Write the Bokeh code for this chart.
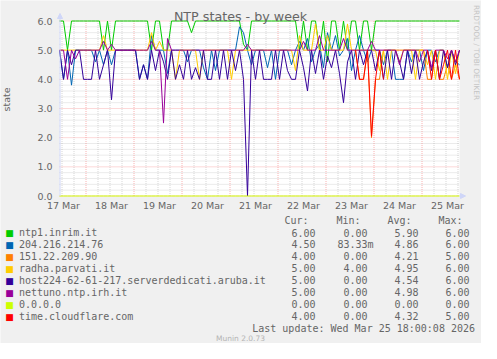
import numpy as np
from bokeh.plotting import figure
from bokeh.models import Range1d, Label, Arrow, NormalHead, BoxAnnotation
from bokeh.core.properties import value
from bokeh.embed import file_html
from bokeh.resources import INLINE

nan = float("nan")

# ---------------- data ----------------
# time axis: hours after 17 Mar 00:00, one sample every two hours
t_first = 10.75
t_step = 2.0
x_start, x_end = 10.75, 210.75
y_low, y_high = 0.0, 6.0

day_labels = ["17 Mar", "18 Mar", "19 Mar", "20 Mar", "21 Mar",
              "22 Mar", "23 Mar", "24 Mar", "25 Mar"]
y_tick_values = [0, 1, 2, 3, 4, 5, 6]
y_tick_labels = ["0.0", "1.0", "2.0", "3.0", "4.0", "5.0", "6.0"]

ntp1 = [6, 6, 5, 6, 6, 6, 6, 6, 6, 6,
        6, 5, 6, 5, 6, 6, 6, 6, 6, 6,
        6, 6, 6, 5, 6, 6, 5, 5, 6, 6,
        6, 6, 6, 5.6, 6, 6, 6, 6, 6, 6,
        6, 6, 6, 6, 6, 6, 5.2, 5, 6, 6,
        6, 6, 6, 6, 6, 6, 6, 6, 6, 6,
        5, 6, 5, 6, 6, 5, 6, 4.6, 6, 6,
        5, 6, 5, 6, 6, 5, 6, 6, 5, 6,
        6, 6, 6, 6, 6, 6, 6, 6, 6, 6,
        6, 6, 6, 6, 6, 6, 6, 6, 6, 6,
        6]
ip204 = [5, 4, 5, 3.8, 5, 5, 5, 5, 5, 4.6,
         5, 4.5, 5, 4.5, 5, 5, 5, 5, 5, 5,
         4, 4.5, 4, 5.5, 5, 5, 5, 4.2, 5, 5,
         5, 5, 4.6, 5, 5, 5, 4.4, 4, 5, 4.3,
         5, 5, 5, 5, 5, 5.8, 5.6, 5, 4.5, 5,
         5, 5, 4.4, 5, 4, 5, 5, 5, 4.5, 5,
         5.3, 5, 5.4, 4.6, 5, 5.2, 4.4, 5.6, 5, 5.5,
         4.8, 5, 5.4, 4.3, 5, 5.5, 5, 4.6, 5, 5,
         5, 4.5, 5, 5, 4, 4, 4, 5, 4.6, 5,
         5, 4.3, 5, 5, 4.6, 5, 5, 4.4, 5, 4.6,
         4.5]
ip151 = [nan, nan, nan, nan, nan, nan, nan, nan, nan, nan,
         nan, nan, nan, nan, nan, nan, nan, nan, nan, nan,
         nan, nan, nan, nan, nan, nan, nan, nan, nan, nan,
         nan, nan, nan, nan, nan, nan, nan, nan, nan, nan,
         nan, nan, nan, nan, nan, nan, nan, nan, nan, nan,
         nan, nan, nan, nan, nan, nan, nan, nan, nan, nan,
         nan, nan, nan, nan, nan, nan, nan, nan, nan, nan,
         nan, nan, nan, nan, 5, 4, 4, 5, 2, 4,
         4, 5, 5, 5, 5, 5, 5, 5, 5, 5,
         5, 5, 4, 4, 5, 4, 4, 4.5, 4, 4.5,
         4]
radha = [5, 5, 5, 5, 5, 5, 5, 5, 5, 5,
         5, 5.5, 5, 5, 5, 5, 5, 5, 5, 5,
         5, 5, 5, 5.6, 5, 5.3, 5, 5, 5, 4,
         5, 5, 5, 5, 5, 4, 5, 5, 5, 5,
         5, 5, 5, 4, 5, 5, 5, 5, 5, 5,
         5, 5, 5, 5, 5, 5, 5, 5, 5, 4.3,
         5.5, 5, 5, 5, 5.9, 5, 5, 5.5, 5, 5,
         5, 5, 5.9, 5, 5, 5, 5, 5, 5, 5,
         4.3, 5, 4, 5, 5, 4.6, 5, 5, 5, 4,
         5, 5, 4.5, 5, 4, 5, 5, 4, 5, 4.2,
         5]
host224 = [5, 4, 5, 4.5, 5, 5, 4, 4, 4, 5,
           4, 4.5, 5, 3.3, 5, 5, 5, 5, 5, 5,
           4, 4.5, 4, 5, 4.3, 5, 4.6, 4, 5, 4,
           4.5, 4, 5, 4, 4.4, 4, 5, 4, 4, 5,
           4, 5, 4, 5, 4.3, 5, 4, 0, 5, 4,
           5, 4, 4, 4, 5, 4, 5, 4.3, 4, 4,
           5, 4.4, 3.6, 5, 4.2, 5, 4, 4.8, 4.4, 5,
           4.2, 3.2, 4.6, 5, 4, 5, 4.5, 5, 5, 4.3,
           5, 4, 5, 4, 5, 4.6, 4, 5, 4.2, 5,
           4, 4.6, 5, 4.3, 5, 4, 5, 4.4, 5, 4.5,
           5]
nettuno = [5, 5, 4, 5, 4.7, 5, 5, 5, 5, 5,
           5, 5.3, 5, 5.2, 5, 5, 5, 5, 5, 5,
           5, 5, 5, 5.3, 5, 5, 2.5, 5.4, 5, 5,
           5, 5, 5, 5, 5, 5, 5, 5, 5, 5,
           5, 5, 5, 5, 5, 5, 5, 5.2, 5, 5,
           5, 5, 5, 5, 5, 5, 5, 5, 5, 5,
           5, 5.3, 5, 5, 5, 5.5, 5, 5, 5, 5,
           5, 5.4, 5, 5, 5, 5, 5, 5, 5.3, 5,
           5, 5, 5, 5, 5, 4.5, 5, 5, 5, 5,
           4.6, 5, 5, 4.4, 5, 5, 5, 4.7, 5, 4.6,
           5]
zero = [0, 0, 0, 0, 0, 0, 0, 0, 0, 0,
        0, 0, 0, 0, 0, 0, 0, 0, 0, 0,
        0, 0, 0, 0, 0, 0, 0, 0, 0, 0,
        0, 0, 0, 0, 0, 0, 0, 0, 0, 0,
        0, 0, 0, 0, 0, 0, 0, 0, 0, 0,
        0, 0, 0, 0, 0, 0, 0, 0, 0, 0,
        0, 0, 0, 0, 0, 0, 0, 0, 0, 0,
        0, 0, 0, 0, 0, 0, 0, 0, 0, 0,
        0, 0, 0, 0, 0, 0, 0, 0, 0, 0,
        0, 0, 0, 0, 0, 0, 0, 0, 0, 0,
        0]
cloudflare = [nan, nan, nan, nan, nan, nan, nan, nan, nan, nan,
              nan, nan, nan, nan, nan, nan, nan, nan, nan, nan,
              nan, nan, nan, nan, nan, nan, nan, nan, nan, nan,
              nan, nan, nan, nan, nan, nan, nan, nan, nan, nan,
              nan, nan, nan, nan, nan, nan, nan, nan, nan, nan,
              nan, nan, nan, nan, nan, nan, nan, nan, nan, nan,
              nan, nan, nan, nan, nan, nan, nan, nan, nan, nan,
              nan, nan, nan, nan, 5, 4, 4, 5, 2.05, 4,
              5, 4, nan, nan, nan, nan, nan, nan, nan, nan,
              nan, nan, 5, 4, 5, 4, 4.5, 5, 4, 5,
              4]

names = ["ntp1.inrim.it", "204.216.214.76", "151.22.209.90", "radha.parvati.it",
         "host224-62-61-217.serverdedicati.aruba.it", "nettuno.ntp.irh.it",
         "0.0.0.0", "time.cloudflare.com"]
colors = ["#00CC00", "#0066B3", "#FF8000", "#FFCC00",
          "#330099", "#990099", "#CCFF00", "#FF0000"]
cur_txt = ["6.00", "4.50", "4.00", "5.00", "5.00", "5.00", "0.00", "4.00"]
min_txt = ["0.00", "83.33m", "0.00", "4.00", "0.00", "0.00", "0.00", "0.00"]
avg_txt = ["5.90", "4.86", "4.21", "4.95", "4.54", "4.98", "0.00", "4.32"]
max_txt = ["6.00", "6.00", "5.00", "6.00", "6.00", "6.00", "0.00", "5.00"]
series = [ntp1, ip204, ip151, radha, host224, nettuno, zero, cloudflare]

# ---------------- figure: the frame fills the whole canvas ----------------
FONT = "#666666"
AXIS = "#CFD6F8"
W, H = 481, 343
PPH = 2.0              # pixels per hour
PPU = 175.0 / 6.0      # pixels per state unit
LEFT, ZERO_ROW = 59.0, 195.5   # canvas position of the plot area

xr = Range1d(x_start - LEFT / PPH, x_start + (W - LEFT) / PPH)
yr = Range1d(y_low - (H - ZERO_ROW) / PPU, y_low + ZERO_ROW / PPU)

p = figure(width=W, height=H, output_backend="svg", toolbar_location=None,
           title=None, x_range=xr, y_range=yr,
           x_axis_type=None, y_axis_type=None, min_border=0,
           background_fill_color="#F0F0F0", border_fill_color="#F0F0F0",
           outline_line_color=None)

# white canvas of the graph area
p.add_layout(BoxAnnotation(left=x_start, right=x_end,
                           bottom=y_low - 0.5 / PPU, top=y_high + 0.5 / PPU,
                           fill_color="#FFFFFF", fill_alpha=1.0,
                           line_color=None, level="image"))

label_hours = [12.75 + 24 * k for k in range(len(day_labels))]
midnights = [24 * k for k in range(1, 9)]
six_hours = [6 * k for k in range(2, 36) if k % 4 != 0]
y_minor = [round(0.2 * k, 1) for k in range(31) if k % 5 != 0]

GRID, MGRID = "#8C8C8C", "#F58080"
# minor grid
p.segment(x0=six_hours, y0=[y_low] * len(six_hours), x1=six_hours,
          y1=[y_high] * len(six_hours), line_color=GRID, line_alpha=0.35,
          line_dash="1 1", line_width=1)
p.segment(x0=[x_start] * len(y_minor), y0=y_minor, x1=[x_end] * len(y_minor),
          y1=y_minor, line_color=GRID, line_alpha=0.35, line_dash="1 1", line_width=1)
# major grid
p.segment(x0=midnights, y0=[y_low] * len(midnights), x1=midnights,
          y1=[y_high] * len(midnights), line_color=MGRID, line_alpha=0.6,
          line_dash="1 1", line_width=1)
p.segment(x0=[x_start] * len(y_tick_values), y0=y_tick_values,
          x1=[x_end] * len(y_tick_values), y1=y_tick_values,
          line_color=MGRID, line_alpha=0.6, line_dash="1 1", line_width=1)

# axes (line + arrow)
ax_x = x_start + 0.5 / PPH
p.add_layout(Arrow(x_start=ax_x, y_start=y_low, x_end=ax_x, y_end=y_high + 7.5 / PPU,
                   line_color=AXIS, line_width=1,
                   end=NormalHead(size=5, fill_color=AXIS, line_color=AXIS)))
p.add_layout(Arrow(x_start=x_end, y_start=y_low, x_end=x_end + 6 / PPH, y_end=y_low,
                   line_color=AXIS, line_width=1,
                   end=NormalHead(size=5, fill_color=AXIS, line_color=AXIS)))

# data series
t = np.array([t_first + t_step * i for i in range(len(ntp1))])
for s, c in zip(series, colors):
    p.line(t, np.array(s, dtype=float), line_color=c, line_width=1)

# tick labels
p.text(x=label_hours, y=[y_low] * len(label_hours), text=day_labels,
       y_offset=4, text_align="center", text_baseline="top",
       text_font=value("DejaVu Sans"), text_font_size="9.5px", text_color=FONT)
p.text(x=[x_start] * len(y_tick_values), y=y_tick_values, text=y_tick_labels,
       x_offset=-7, text_align="right", text_baseline="middle",
       text_font=value("DejaVu Sans"), text_font_size="9.5px", text_color=FONT)


# ---------------- texts (reference pixel coordinates, page margin 8px) ----------------
def txt(X, Y, s, size, color=FONT, font="DejaVu Sans", align="left",
        baseline="middle", angle=0.0):
    p.add_layout(Label(x=X - 8, y=H + 8 - Y, x_units="screen", y_units="screen",
                       text=s, text_font=font, text_font_size=size,
                       text_color=color, text_align=align,
                       text_baseline=baseline, angle=angle))


txt(248, 23.5, "NTP states - by week", "12.7px", align="center", baseline="alphabetic")
txt(14, 107, "state", "9.5px", align="center", angle=np.pi / 2)
txt(484, 60, "RRDTOOL / TOBI OETIKER", "7.4px", color="#C4C4C4",
    align="center", angle=-np.pi / 2)

MONO = "DejaVu Sans Mono"
txt(316, 228, "Cur:", "10px", font=MONO, align="right")
txt(368, 228, "Min:", "10px", font=MONO, align="right")
txt(419, 228, "Avg:", "10px", font=MONO, align="right")
txt(470, 228, "Max:", "10px", font=MONO, align="right")

for k in range(len(names)):
    y = 240 + 11.95 * k
    txt(17, y + 0.5, "\u25A0", "9px", color=colors[k], align="center")
    txt(26.5, y, names[k], "10px", font=MONO)
    txt(323, y, cur_txt[k], "10px", font=MONO, align="right")
    mx = 381 if min_txt[k][-1].isalpha() else 375
    txt(mx, y, min_txt[k], "10px", font=MONO, align="right")
    txt(426, y, avg_txt[k], "10px", font=MONO, align="right")
    txt(477, y, max_txt[k], "10px", font=MONO, align="right")

txt(482.5, 335.5, "Last update: Wed Mar 25 18:00:08 2026", "10px", font=MONO, align="right")
txt(248, 345.5, "Munin 2.0.73", "7.5px", color="#B4B4B4", align="center")

open("out.html", "w").write(file_html(p, INLINE))
